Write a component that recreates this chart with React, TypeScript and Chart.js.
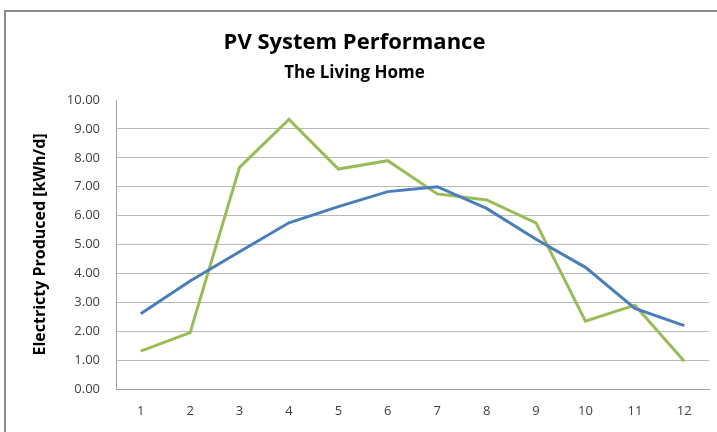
import React, { useEffect, useRef } from "react";
import { Chart, registerables } from "chart.js";

Chart.register(...registerables);

const months = ["1", "2", "3", "4", "5", "6", "7", "8", "9", "10", "11", "12"];
const seriesBlue = [2.6, 3.74, 4.75, 5.75, 6.31, 6.83, 7.0, 6.25, 5.18, 4.21, 2.79, 2.19];
const seriesGreen = [1.31, 1.95, 7.67, 9.33, 7.61, 7.9, 6.75, 6.54, 5.75, 2.35, 2.9, 0.96];
const yMin = 0;
const yMax = 10;
const yStep = 1;

const titleText = "PV System Performance";
const subtitleText = "The Living Home";
const yTitleText = "Electricty Produced [kWh/d]";

const FONT = "'Open Sans', 'Noto Sans', sans-serif";

const framePlugin = {
  id: "frame",
  beforeDraw(chart: any) {
    const { ctx, width, height } = chart;
    ctx.save();
    ctx.fillStyle = "#ffffff";
    ctx.fillRect(0, 0, width, height);
    ctx.strokeStyle = "#8c8c8c";
    ctx.lineWidth = 2;
    ctx.beginPath();
    ctx.moveTo(width, 11);
    ctx.lineTo(5, 11);
    ctx.lineTo(5, height);
    ctx.stroke();
    ctx.restore();
  },
};

export default function App() {
  const canvasRef = useRef<HTMLCanvasElement | null>(null);

  useEffect(() => {
    if (!canvasRef.current) return;
    const chart = new Chart(canvasRef.current, {
      type: "line",
      data: {
        labels: months,
        datasets: [
          {
            label: "Series 1",
            data: seriesBlue,
            borderColor: "#4a7ebb",
            backgroundColor: "#4a7ebb",
            borderWidth: 3,
            pointRadius: 0,
            tension: 0,
          },
          {
            label: "Series 2",
            data: seriesGreen,
            borderColor: "#9bbb59",
            backgroundColor: "#9bbb59",
            borderWidth: 3,
            pointRadius: 0,
            tension: 0,
          },
        ],
      },
      options: {
        responsive: false,
        animation: false,
        layout: { padding: { top: 0, left: 0, right: 8, bottom: 0 } },
        plugins: {
          legend: { display: false },
          tooltip: { enabled: false },
          title: {
            display: true,
            text: titleText,
            color: "#000000",
            font: { family: FONT, size: 22, weight: "bold", lineHeight: 1.2 },
            padding: { top: 30, bottom: 0 },
          },
          subtitle: {
            display: true,
            text: subtitleText,
            color: "#000000",
            font: { family: FONT, size: 17, weight: "bold", lineHeight: 1.2 },
            padding: { top: 6.4, bottom: 16.8 },
          },
        },
        scales: {
          x: {
            type: "category",
            offset: true,
            grid: { display: false, drawTicks: false },
            border: { display: true, color: "#a0a0a0", width: 1 },
            ticks: {
              color: "#404040",
              padding: 14,
              font: { family: FONT, size: 13 },
              maxRotation: 0,
            },
            afterFit(scale: any) {
              scale.height = 43;
            },
          },
          y: {
            min: yMin,
            max: yMax,
            grid: {
              drawTicks: false,
              color: (ctx: any) =>
                ctx.tick && ctx.tick.value === yMax ? "rgba(0,0,0,0)" : "#b8b8b8",
              lineWidth: 1,
            },
            border: { display: true, color: "#a0a0a0", width: 1 },
            ticks: {
              stepSize: yStep,
              color: "#404040",
              padding: 16,
              font: { family: FONT, size: 13 },
              callback: (v: any) => Number(v).toFixed(2),
            },
            title: {
              display: true,
              text: yTitleText,
              color: "#000000",
              font: { family: FONT, size: 16, weight: "bold", lineHeight: 1.2 },
              padding: { top: 30.4, bottom: 0 },
            },
            afterFit(scale: any) {
              scale.width = 116;
            },
          },
        },
      },
      plugins: [framePlugin],
    });
    return () => chart.destroy();
  }, []);

  return (
    <div style={{ position: "fixed", left: 0, top: 0, width: 717, height: 432, background: "#fff" }}>
      <canvas ref={canvasRef} width={717} height={432} style={{ display: "block" }} />
    </div>
  );
}
